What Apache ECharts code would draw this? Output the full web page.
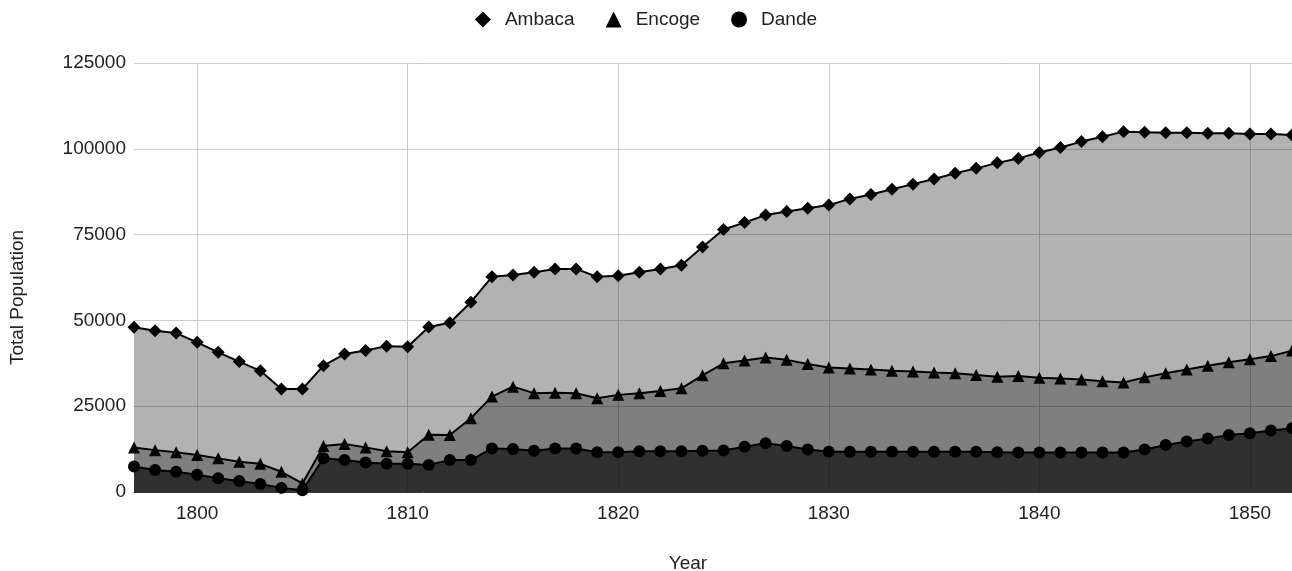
<!DOCTYPE html>
<html>
<head>
<meta charset="utf-8">
<script src="https://cdn.jsdelivr.net/npm/echarts@6/dist/echarts.min.js"></script>
<style>
  html, body { margin: 0; padding: 0; background: #fff; }
  #chart { width: 1292px; height: 571px; }
</style>
</head>
<body>
<div id="chart"></div>
<script>
  // years 1797..1852
  var years = []
  for (var y = 1797; y <= 1852; y++) years.push(String(y))

  var dande = [7400, 6400, 5900, 5000, 4000, 3200, 2300, 1200, 500, 9800,
    9300, 8600, 8200, 8200, 7900, 9300, 9300, 12700, 12500, 12000,
    12700, 12700, 11600, 11600, 11900, 11900, 11900, 12000, 12100, 13200,
    14200, 13400, 12400, 11700, 11700, 11700, 11700, 11700, 11700, 11700,
    11700, 11600, 11500, 11500, 11500, 11500, 11500, 11500, 12400, 13700,
    14700, 15600, 16600, 17100, 17900, 18600]

  var encoge = [5600, 5800, 5700, 5800, 5800, 5600, 5900, 4700, 2000, 3600,
    4700, 4400, 3700, 3400, 8800, 7300, 12200, 15100, 18200, 16800,
    16200, 16100, 15700, 16700, 16900, 17500, 18300, 22000, 25400, 25100,
    25000, 25100, 24900, 24600, 24300, 24000, 23600, 23400, 23100, 22900,
    22400, 22000, 22300, 21800, 21600, 21300, 20800, 20400, 21000, 20900,
    21000, 21200, 21200, 21600, 21700, 22600]

  var ambaca = [35000, 34800, 34700, 32800, 30900, 29200, 27100, 24100, 27500, 23400,
    26200, 28200, 30600, 30700, 31400, 32700, 33800, 34900, 32500, 35200,
    36100, 36200, 35400, 34700, 35200, 35600, 35900, 37400, 39000, 40200,
    41500, 43200, 45400, 47300, 49400, 51000, 52900, 54600, 56400, 58300,
    60200, 62300, 63400, 65600, 67300, 69300, 71200, 73100, 71400, 70100,
    69000, 67700, 66700, 65600, 64700, 62800]

  var yTicks = [0, 25000, 50000, 75000, 100000, 125000]

  var font = 'Liberation Sans, Arial, sans-serif'

  function makeSeries(name, data, symbol, size, opacity) {
    return {
      name: name,
      type: 'line',
      stack: 'total',
      data: data,
      symbol: symbol,
      symbolSize: size,
      showSymbol: true,
      itemStyle: { color: '#000' },
      lineStyle: { color: '#000', width: 2 },
      areaStyle: { color: '#000', opacity: opacity },
      emphasis: { disabled: true },
      animation: false
    }
  }

  var chart = echarts.init(document.getElementById('chart'))
  chart.setOption({
    backgroundColor: '#fff',
    legend: {
      top: 5,
      left: 'center',
      itemWidth: 16,
      itemHeight: 16,
      itemGap: 31,
      textStyle: { fontFamily: font, fontSize: 19, color: '#222', padding: [0, 0, 0, 9] },
      data: [
        { name: 'Ambaca', icon: 'diamond' },
        { name: 'Encoge', icon: 'triangle' },
        { name: 'Dande', icon: 'circle' }
      ]
    },
    grid: {
      left: 134,
      right: 0,
      top: 63,
      bottom: 79,
      containLabel: false,
      outerBoundsMode: 'none'
    },
    xAxis: {
      type: 'category',
      boundaryGap: false,
      data: years,
      name: 'Year',
      nameLocation: 'middle',
      nameGap: 62,
      nameTextStyle: { fontFamily: font, fontSize: 19, color: '#222', padding: [0, 50, 0, 0] },
      axisLine: { show: true, lineStyle: { color: '#333', width: 1 } },
      axisTick: { show: false },
      axisLabel: {
        fontFamily: font,
        fontSize: 19,
        color: '#222',
        margin: 12,
        interval: function (i, v) { return Number(v) % 10 === 0 }
      },
      splitLine: {
        show: true,
        interval: function (i, v) { return Number(v) % 10 === 0 },
        lineStyle: { color: '#ccc', width: 1 }
      }
    },
    yAxis: {
      type: 'value',
      min: yTicks[0],
      max: yTicks[yTicks.length - 1],
      interval: 25000,
      name: 'Total Population',
      nameLocation: 'middle',
      nameGap: 107,
      nameTextStyle: { fontFamily: font, fontSize: 19, color: '#222', padding: [0, 40, 0, 0] },
      axisLine: { show: false },
      axisTick: { show: false },
      axisLabel: {
        fontFamily: font,
        fontSize: 19,
        color: '#222',
        margin: 8,
        formatter: function (v) { return String(v) }
      },
      splitLine: { lineStyle: { color: '#ccc', width: 1 } }
    },
    series: [
      makeSeries('Dande', dande, 'circle', 12, 0.81),
      makeSeries('Encoge', encoge, 'triangle', 12, 0.5),
      makeSeries('Ambaca', ambaca, 'diamond', 13, 0.3)
    ]
  })
</script>
</body>
</html>
